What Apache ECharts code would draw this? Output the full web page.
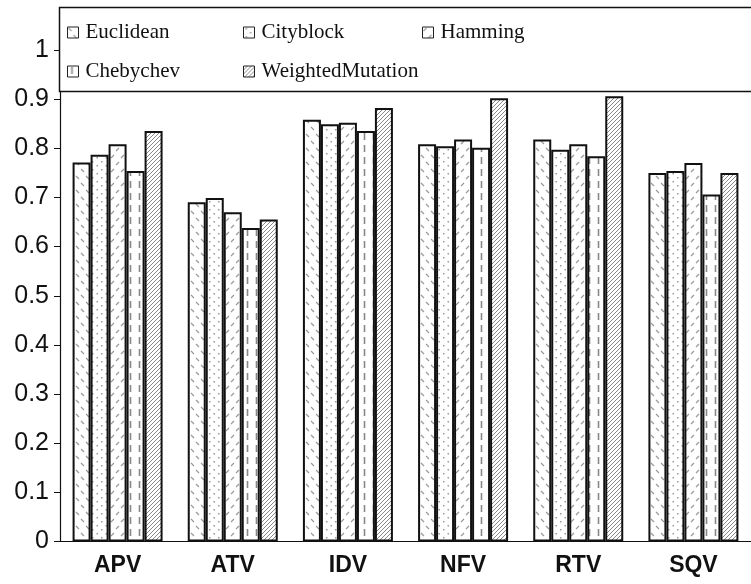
<!DOCTYPE html>
<html>
<head>
<meta charset="utf-8">
<script src="https://cdn.jsdelivr.net/npm/echarts@6/dist/echarts.min.js"></script>
<style>html,body{margin:0;padding:0;background:#fff}#c{width:751px;height:584px}</style>
</head>
<body>
<div id="c"></div>
<script>
var categories = ['APV', 'ATV', 'IDV', 'NFV', 'RTV', 'SQV'];
var euclidean = [0.771, 0.690, 0.858, 0.808, 0.818, 0.750];
var cityblock = [0.787, 0.699, 0.849, 0.804, 0.797, 0.754];
var hamming = [0.808, 0.670, 0.852, 0.818, 0.808, 0.770];
var chebychev = [0.754, 0.638, 0.835, 0.801, 0.784, 0.706];
var weightedMutation = [0.835, 0.655, 0.882, 0.902, 0.906, 0.750];
var yTicks = [0, 0.1, 0.2, 0.3, 0.4, 0.5, 0.6, 0.7, 0.8, 0.9, 1];

function tile(w, h, draw) {
  var c = document.createElement('canvas');
  c.width = w; c.height = h;
  var ctx = c.getContext('2d');
  ctx.fillStyle = '#fff';
  ctx.fillRect(0, 0, w, h);
  draw(ctx);
  return { image: c, repeat: 'repeat' };
}
var patEuc = tile(10, 14, function (ctx) {
  ctx.strokeStyle = '#999'; ctx.lineWidth = 1.2;
  ctx.beginPath();
  ctx.moveTo(1, 1); ctx.lineTo(4, 4);
  ctx.moveTo(6, 8); ctx.lineTo(9, 11);
  ctx.stroke();
});
var patCity = tile(9, 8, function (ctx) {
  ctx.fillStyle = '#999';
  ctx.fillRect(2, 1, 1.5, 1.5);
  ctx.fillRect(6.5, 5, 1.5, 1.5);
});
var patHam = tile(10, 14, function (ctx) {
  ctx.strokeStyle = '#999'; ctx.lineWidth = 1.2;
  ctx.beginPath();
  ctx.moveTo(1, 4); ctx.lineTo(4, 1);
  ctx.moveTo(6, 11); ctx.lineTo(9, 8);
  ctx.stroke();
});
var patCheb = tile(9, 12, function (ctx) {
  ctx.strokeStyle = '#888'; ctx.lineWidth = 1.6;
  ctx.beginPath();
  ctx.moveTo(4.5, 1); ctx.lineTo(4.5, 8);
  ctx.stroke();
});
var patWM = tile(4, 4, function (ctx) {
  ctx.strokeStyle = '#888'; ctx.lineWidth = 1;
  ctx.beginPath();
  ctx.moveTo(-1, 5); ctx.lineTo(5, -1);
  ctx.moveTo(-1, 1); ctx.lineTo(1, -1);
  ctx.moveTo(3, 5); ctx.lineTo(5, 3);
  ctx.stroke();
});

var names = ['Euclidean', 'Cityblock', 'Hamming', 'Chebychev', 'WeightedMutation'];
var datas = [euclidean, cityblock, hamming, chebychev, weightedMutation];
var pats = [patEuc, patCity, patHam, patCheb, patWM];

var series = names.map(function (n, i) {
  return {
    name: n, type: 'bar', data: datas[i], barWidth: 18, barGap: '0%',
    itemStyle: { color: pats[i], borderColor: '#111', borderWidth: 2 },
    emphasis: { disabled: true }, z: 3
  };
});

function legend(left, items) {
  return {
    left: left, top: 22, orient: 'vertical', itemGap: 18,
    itemWidth: 11, itemHeight: 11, data: items, selectedMode: false,
    icon: 'rect', z: 20, padding: 0,
    itemStyle: { borderColor: '#222', borderWidth: 1 },
    textStyle: { fontFamily: 'Liberation Serif', fontSize: 21, color: '#111', padding: [0, 0, 0, 2] }
  };
}

var chart = echarts.init(document.getElementById('c'));
chart.setOption({
  animation: false,
  backgroundColor: '#fff',
  grid: { left: 60, right: -7, top: 50, bottom: 42.5, containLabel: false },
  legend: [
    legend(67, ['Euclidean', 'Chebychev']),
    legend(243, ['Cityblock', 'WeightedMutation']),
    legend(422, ['Hamming'])
  ],
  graphic: [{
    type: 'rect', shape: { x: 59.5, y: 7.5, width: 720, height: 84 },
    style: { fill: '#fff', stroke: '#111', lineWidth: 1.5 }, z: 5
  }],
  xAxis: {
    type: 'category', data: categories,
    axisLine: { lineStyle: { color: '#111', width: 1.2 } },
    axisTick: { length: 6, lineStyle: { color: '#111' } },
    axisLabel: { fontFamily: 'Liberation Sans', fontWeight: 'bold', fontSize: 23, color: '#111', margin: 13 }
  },
  yAxis: {
    type: 'value', min: 0, max: 1, interval: 0.1,
    axisLine: { show: true, lineStyle: { color: '#111', width: 1.2 } },
    axisTick: { show: true, length: 6, lineStyle: { color: '#111' } },
    splitLine: { show: false },
    axisLabel: {
      fontFamily: 'Liberation Sans', fontSize: 25, color: '#111', margin: 11,
      formatter: function (v) { return String(Math.round(v * 10) / 10); }
    }
  },
  series: series
});
</script>
</body>
</html>
